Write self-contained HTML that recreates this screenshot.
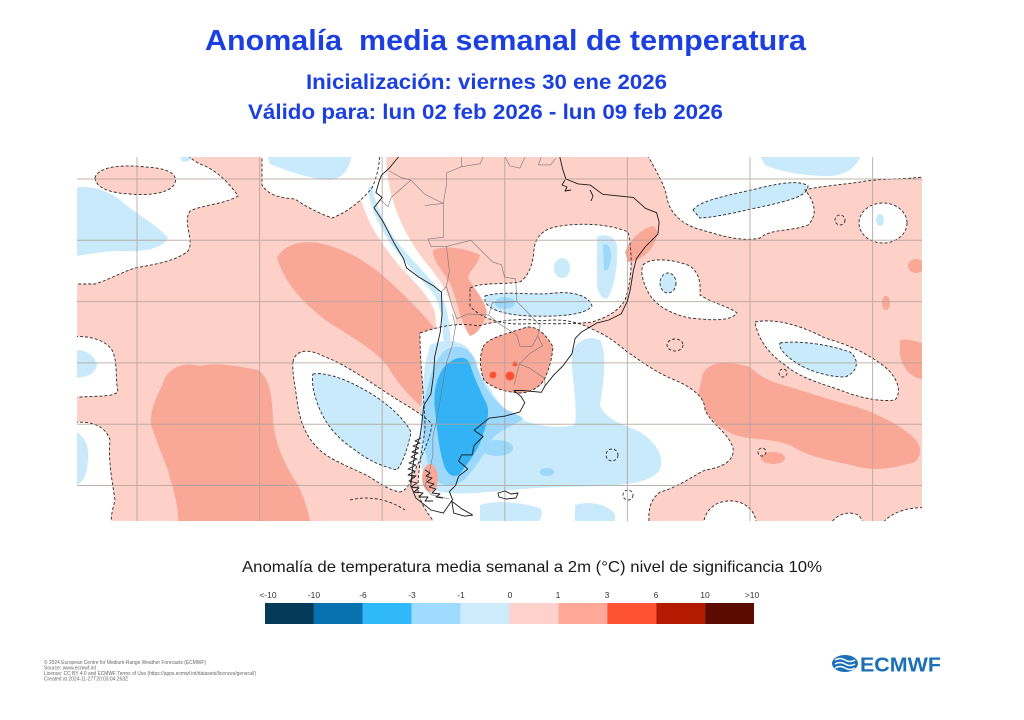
<!DOCTYPE html>
<html><head><meta charset="utf-8"><style>
html,body{margin:0;padding:0;background:#fff;}
svg{display:block;}
</style></head><body>
<svg width="1024" height="720" viewBox="0 0 1024 720" xmlns="http://www.w3.org/2000/svg">
<defs>
<clipPath id="m"><rect x="77" y="157" width="845" height="364"/></clipPath>
<path id="W1" d="M70,150 L182,150 C190,158 196,163 205,166 C218,172 230,184 238,196 C225,204 202,205 190,211 C182,223 195,240 188,251 C175,262 150,265 135,268 C120,273 108,280 95,284 L70,284 Z"/>
<path id="P1" d="M95,178 C97,167 122,164 145,167 C166,168 178,173 175,183 C171,193 150,196 130,194 C110,193 96,188 95,178 Z"/>
<path id="W2" d="M262,150 L380,150 C380,160 378,175 372,188 C362,200 348,212 332,218 C318,213 305,206 295,199 C280,198 268,195 262,185 Z"/>
<path id="WAN" d="M356,150 L386,150 C386,175 390,195 398,215 C405,232 415,250 428,265 C440,280 450,295 455,315 C458,335 456,355 452,370 L436,372 C436,350 437,330 435,312 C430,298 420,288 408,275 C395,262 385,248 375,232 C365,215 358,195 356,175 Z"/>
<path id="WSW" d="M293,362 C295,350 308,348 323,356 C340,362 360,375 387,393 C405,405 420,412 432,424 C430,440 422,455 416,468 C412,480 408,490 400,492 C388,490 378,482 368,476 C352,468 335,462 322,452 C308,440 300,425 297,400 C295,385 292,372 293,362 Z"/>
<path id="LBSW" d="M313,374 C325,372 345,378 370,393 C390,405 405,420 411,432 C408,448 403,462 397,470 C385,467 370,462 355,450 C340,440 328,428 320,410 C315,398 311,385 313,374 Z"/>
<path id="WS" d="M420,333 C440,326 460,322 478,326 C500,320 522,318 542,321 C562,318 578,322 592,329 C606,335 616,342 626,351 C641,361 652,370 670,378 C690,386 705,396 705,410 C712,425 728,432 733,448 C735,462 720,468 705,470 C690,478 676,488 660,492 C650,500 647,510 650,530 L440,530 C430,516 420,505 418,490 C418,470 422,450 425,430 C425,400 420,370 420,333 Z"/>
<path id="LBS" d="M430,345 C445,338 458,340 468,348 C478,370 490,392 505,410 C525,425 555,430 575,425 C578,400 570,370 572,352 C577,340 590,335 600,340 C608,355 603,385 600,405 C605,420 625,425 640,432 C655,442 665,455 660,470 C650,482 630,485 600,486 C570,487 540,487 510,490 C480,493 455,495 440,492 C425,485 420,470 420,450 C420,420 422,390 425,365 Z"/>
<path id="WC" d="M470,288 C482,282 500,285 520,282 C530,275 533,262 534,250 C535,238 542,230 555,227 C580,222 610,224 628,232 C633,255 632,280 625,300 C618,312 605,318 592,322 C570,325 545,323 520,324 C500,324 480,318 470,306 Z"/>
<path id="BC1" d="M485,296 C505,290 530,296 555,293 C575,291 590,297 592,306 C585,315 560,317 530,316 C505,315 490,310 485,302 Z"/>
<path id="WB" d="M643,265 C650,258 670,258 690,266 C702,275 700,288 700,295 C712,303 730,307 737,313 C730,322 710,320 690,318 C670,314 655,305 648,292 C643,282 640,272 643,265 Z"/>
<path id="WTA" d="M645,150 L930,150 L930,176 C905,180 880,178 860,182 C840,185 820,186 805,190 C815,202 818,215 808,225 C790,232 772,228 760,238 C742,242 722,236 702,230 C685,226 670,215 667,198 C664,182 655,170 645,150 Z"/>
<path id="BA1" d="M693,210 C700,200 730,195 760,188 C780,183 800,180 808,186 C808,196 790,200 770,205 C745,210 720,217 700,218 Z"/>
<path id="BA2" d="M757,150 L862,150 C860,165 848,175 830,176 C805,176 780,172 765,165 Z"/>
<path id="WR" d="M755,322 C775,318 800,325 825,338 C850,345 870,355 885,367 C898,378 902,392 895,400 C880,402 860,398 840,390 C820,383 800,378 785,365 C770,355 758,340 755,322 Z"/>
<path id="BR" d="M780,343 C800,340 830,345 850,352 C860,360 858,372 845,377 C830,377 810,372 795,362 C785,355 778,348 780,343 Z"/>
<path id="L1" d="M70,337 C90,335 105,340 112,350 C118,362 115,378 118,392 C110,398 95,395 70,398 Z"/>
<path id="L2" d="M70,423 C90,420 105,425 110,440 C108,460 112,480 115,500 C112,512 110,518 112,530 L70,530 Z"/>
<path id="PY" d="M483,347 C488,338 500,336 527,327 C535,326 545,332 553,347 C552,357 550,367 545,378 C540,387 530,393 520,393 C505,392 492,388 484,380 C480,370 479,357 483,347 Z"/>
<path id="WBR1" d="M703,530 C703,510 715,500 733,501 C748,503 757,512 757,530 Z"/>
<path id="WBR2" d="M828,530 C832,515 848,510 858,515 C864,520 863,526 862,530 Z"/>
<path id="WBR3" d="M878,530 C886,514 905,506 930,508 L930,530 Z"/>
</defs>

<!-- Titles -->
<g font-family="'Liberation Sans', 'DejaVu Sans', sans-serif" font-weight="bold" fill="#1c40e0">
<text x="205" y="50" font-size="29" textLength="601" lengthAdjust="spacingAndGlyphs" style="white-space:pre">Anomalía  media semanal de temperatura</text>
<text x="306" y="89" font-size="21" textLength="361" lengthAdjust="spacingAndGlyphs">Inicialización: viernes 30 ene 2026</text>
<text x="248" y="119" font-size="21" textLength="475" lengthAdjust="spacingAndGlyphs">Válido para: lun 02 feb 2026 - lun 09 feb 2026</text>
</g>

<!-- Map -->
<g clip-path="url(#m)">
<rect x="77" y="157" width="845" height="364" fill="#fdd0c8"/>
<!-- salmon large -->
<g fill="#f9a898">
<path d="M277,258 C283,246 298,240 318,243 C345,248 368,262 388,280 C405,296 422,312 436,330 L438,362 C436,384 432,398 426,410 C412,400 398,384 386,364 C372,348 350,336 328,322 C303,303 285,284 277,258 Z"/>
<path d="M165,378 C172,366 185,362 200,366 C215,362 238,366 258,370 C270,378 272,395 273,420 C275,445 285,465 298,485 C305,500 308,510 312,530 L178,530 C180,505 172,488 168,470 C162,455 158,445 151,425 C150,410 156,398 160,390 Z"/>
<path d="M703,373 C710,362 725,360 750,367 C760,378 775,383 790,387 C810,393 830,400 857,407 C880,415 900,425 913,437 C922,445 922,455 915,462 C895,468 875,472 855,466 C830,460 810,458 790,445 C770,438 750,440 735,435 C718,428 705,415 698,395 Z"/>
<path d="M900,340 C912,338 930,345 930,350 L930,380 C912,380 903,370 900,355 Z"/>
<ellipse cx="916" cy="266" rx="8" ry="7"/>
<ellipse cx="886" cy="303" rx="4" ry="7"/>
<ellipse cx="773" cy="458" rx="12" ry="6"/>
</g>
<!-- white regions -->
<g fill="#ffffff">
<use href="#W1"/><use href="#W2"/><use href="#WAN"/><use href="#WSW"/><use href="#WS"/><use href="#WC"/><use href="#WB"/><use href="#WTA"/><use href="#WR"/><use href="#L1"/><use href="#L2"/>
<ellipse cx="883" cy="223" rx="24" ry="20"/>
<use href="#WBR1"/><use href="#WBR2"/><use href="#WBR3"/>
<path d="M610,380 C625,372 640,378 650,392 C655,405 645,415 630,412 C615,408 606,395 610,380 Z"/>
</g>
<use href="#P1" fill="#fdd0c8"/>
<!-- light blue -->
<g fill="#c9eafa">
<path d="M70,188 C95,184 113,193 126,205 C140,216 158,226 168,238 C162,250 140,252 120,251 C105,251 90,254 70,257 Z"/>
<path d="M266,150 L352,150 C352,165 344,179 330,180 C310,179 290,172 270,164 Z"/>
<path d="M180,150 L194,150 C193,161 187,163 181,161 Z"/>
<path d="M372,185 C375,205 385,225 398,243 C410,258 425,272 437,288 C445,300 448,320 447,340 L443,340 C443,320 440,302 432,292 C420,278 405,262 393,247 C380,228 370,208 368,188 Z"/>
<path d="M444,300 C450,320 452,345 450,368 L444,368 C445,345 444,320 440,302 Z"/>
<use href="#LBSW"/><use href="#LBS"/><use href="#BC1"/>
<path d="M597,237 C605,233 615,236 617,245 C618,265 615,285 608,298 C600,300 596,290 597,275 Z"/>
<ellipse cx="562" cy="268" rx="8" ry="10"/>
<ellipse cx="668" cy="283" rx="8" ry="10"/>
<use href="#BA1"/><use href="#BA2"/><use href="#BR"/>
<ellipse cx="880" cy="220" rx="4" ry="6"/>
<path d="M70,350 C85,348 95,355 97,365 C95,375 85,378 70,378 Z"/>
<path d="M70,430 C83,432 90,445 88,460 C87,475 84,485 70,487 Z"/>
<path d="M480,505 C495,500 520,502 540,508 C545,515 540,521 530,530 L480,530 Z"/>
<path d="M575,505 C590,500 610,505 615,515 L615,530 L575,530 Z"/>
</g>
<!-- medium blue -->
<g fill="#9bd8fb">
<path d="M450,348 C462,344 472,350 476,362 C480,380 490,398 507,410 C515,414 522,416 523,419 C515,425 500,430 493,438 C486,450 478,465 466,478 C458,486 445,489 437,481 C428,470 424,450 423,427 C423,405 426,390 432,372 C437,360 442,350 450,348 Z"/>
<ellipse cx="497" cy="448" rx="16" ry="8"/>
<ellipse cx="547" cy="472" rx="7" ry="4"/>
<ellipse cx="505" cy="303" rx="10" ry="6"/>
<path d="M603,245 C607,243 611,246 611,255 C611,265 608,272 604,270 Z"/>
</g>
<!-- strong blue -->
<path fill="#33b3f5" d="M450,362 C458,356 467,356 470,364 C474,378 480,390 487,405 C490,415 486,425 482,438 C478,450 470,460 460,474 C453,479 446,474 443,462 C439,448 437,430 435,410 C433,393 436,380 442,370 C445,366 447,363 450,362 Z"/>
<!-- salmon on top -->
<g fill="#f9a898">
<use href="#PY"/>
<path d="M433,250 C445,245 465,248 480,255 C478,265 470,270 468,278 C475,290 485,300 487,312 C484,324 478,334 470,336 C462,325 458,305 452,288 C447,275 432,262 433,250 Z"/>
<path d="M625,252 C630,240 640,230 652,226 C660,228 658,240 650,250 C643,258 635,262 628,262 Z"/>
<ellipse cx="430" cy="478" rx="8" ry="14"/>
<path d="M520,362 C530,358 545,362 547,372 C545,385 535,392 524,390 C518,382 516,370 520,362 Z"/>
</g>
<g fill="#ff5233">
<circle cx="493" cy="375" r="3.5"/>
<circle cx="510" cy="376" r="4.5"/>
<circle cx="515" cy="364" r="2.5"/>
</g>
<!-- dashed contours -->
<g fill="none" stroke="#2a2a2a" stroke-width="0.9" stroke-dasharray="3,2">
<use href="#W1"/><use href="#P1"/><use href="#W2"/><use href="#WSW"/><use href="#LBSW"/><use href="#WS"/><use href="#WC"/><use href="#WB"/><use href="#WTA"/><use href="#BA1"/><use href="#WR"/><use href="#BR"/><use href="#L1"/><use href="#L2"/><use href="#PY"/><use href="#BC1"/>
<use href="#WBR1"/><use href="#WBR2"/><use href="#WBR3"/>
<ellipse cx="883" cy="223" rx="24" ry="20"/>
<circle cx="840" cy="220" r="5"/>
<circle cx="783" cy="373" r="4"/>
<circle cx="762" cy="452" r="4"/>
<circle cx="612" cy="455" r="6"/>
<circle cx="628" cy="495" r="5"/>
<ellipse cx="675" cy="345" rx="8" ry="6"/>
<ellipse cx="668" cy="283" rx="8" ry="10"/>
<path d="M350,500 C370,495 390,500 405,510"/>
</g>
<!-- gridlines -->
<g stroke="#b0a298" stroke-width="1" opacity="0.8">
<line x1="137" y1="157" x2="137" y2="521"/>
<line x1="259.6" y1="157" x2="259.6" y2="521"/>
<line x1="382.2" y1="157" x2="382.2" y2="521"/>
<line x1="504.8" y1="157" x2="504.8" y2="521"/>
<line x1="627.4" y1="157" x2="627.4" y2="521"/>
<line x1="750" y1="157" x2="750" y2="521"/>
<line x1="872.6" y1="157" x2="872.6" y2="521"/>
<line x1="77" y1="179" x2="922" y2="179"/>
<line x1="77" y1="240.3" x2="922" y2="240.3"/>
<line x1="77" y1="301.6" x2="922" y2="301.6"/>
<line x1="77" y1="362.9" x2="922" y2="362.9"/>
<line x1="77" y1="424.2" x2="922" y2="424.2"/>
<line x1="77" y1="485.5" x2="922" y2="485.5"/>
</g>
<!-- borders -->
<g fill="none" stroke="#777" stroke-width="0.6">
<path d="M452.5,313.9 L455.6,326.1 L452.5,344.5 L446.4,362.9 L443.3,381.3 L440.2,399.7 L437.2,418.1 L432.9,436.5 L432.9,454.9 L429.2,473.2 L424.9,485.5 L431,494.7 L449.4,499"/>
<path d="M446.4,246.4 L470.9,240.3 L492.3,261.8 L501.5,264.8 L504.6,277.1 L515.6,278.9 L516.9,301.6 L492.3,302.8 L488.7,315.1 L467.8,313.9 L456.8,318.8 L452.5,307.7 L446.4,286.3 L449.4,271 L446.4,246.4"/>
<path d="M424.9,205.4 L443.3,203.5 L443.3,237.2 L428,239.1 L431,246.4 L446.4,246.4"/>
<path d="M441.5,291.8 L446.4,286.3"/>
<path d="M389.4,171 L400.4,177.2 L410.8,180.2 L424.9,194.3 L443.3,203.5"/>
<path d="M380.2,199.8 L388.1,206.6 L391.2,197.4 L402,188 L410.8,180.2"/>
<path d="M443.3,203.5 L446.4,185.1 L446.4,172.9 L461.7,166.7 L461.7,156.9"/>
<path d="M461.7,166.7 L480.1,163.7 L483.1,156.9"/>
<path d="M541.4,156.9 L538.3,164.9 L550.6,164.9 L556,158"/>
<path d="M505,157 L510,166 L520,168 L525,157"/>
<path d="M488.7,315.1 L498.5,323.1 L516.9,335.3 L519.9,346.3 L532.2,346.3 L537.7,335.9 L540.2,326.1 L532.2,316.9 L516.9,301.6"/>
<path d="M537.7,335.9 L542.6,345.7 L530.3,353.1 L519.3,364.1 L529.1,367.8 L544.5,378.2 L545.1,385.6"/>
<path d="M519.3,364.1 L514.4,384.4"/>
</g>
<!-- coastlines -->
<g fill="none" stroke="#1a1a1a" stroke-width="0.9" stroke-linejoin="round">
<path d="M398.6,156.9 L389.4,168 L381.4,175.3 L378.9,182 L375.9,192.5 L382,197.4 L374,207.8 L383.2,221.9 L394.3,243.4 L403.5,258.7 L406.5,267.9 L418.8,277.1 L434.1,286.3 L441.5,292.4 L442.1,313.9 L440.2,332.3 L434.7,356.8 L433.5,375.2 L431,393.6 L423.7,405.8 L421.8,424.2 L420,436.5 L415.7,448.7 L412.7,467.1 L410.8,485.5 L415.7,497.8 L431,510 L443.3,513.1 L452.5,499.6 L449.4,491.6 L455.6,485.5 L458.6,476.3 L467.8,469 L458.6,461 L461.7,454.9 L472.1,454.9 L474,445.7 L480.1,439.5 L483.1,436.5 L474,430.3 L489.3,418.1 L504.6,416.2 L519.9,411.9 L524.8,402.7 L521.2,396.6 L513.8,390.5 L523,390.5 L541.4,392.3 L545.1,385.6 L553.6,375.2 L562.8,366 L572,353.7 L575.1,338.4 L581.2,332.3 L596.6,323.1 L608.8,320 L621.1,313.9 L627.2,301.6 L630.3,289.3 L633.3,271 L636.4,258.7 L645.6,246.4 L657.9,234.2 L659.1,221.9 L656.6,212.7 L645.6,208.4 L633.3,197.4 L621.1,196.2 L602.7,194.3 L590.4,185.1 L578.2,183.9 L565.9,179 L562.8,169.8 L559.8,156.9"/>
<path d="M451.9,501.4 L453.7,513.1 L464.8,516.2 L472.7,515 L461.7,508.8 Z"/>
<path d="M498,493 L505,491 L511,494 L518,493 L516,498 L506,499 L499,497 Z"/>
<path d="M421,438 l-6,3 l5,2 l-7,3 l6,2 l-7,4 l6,1 l-7,4 l6,2 l-8,4 l7,2 l-8,4 l7,2 l-7,4 l8,1 l-7,5 l8,2 l-6,4 l8,1 l-5,4 l9,1 l-4,4 l9,0 l-3,4 l8,0"/>
<path d="M425,470 l5,3 l-4,3 l6,2 l-5,4 l7,2 l-5,3 l7,2 l-4,4 l8,1 l-4,3 l7,1"/>
<path d="M565,180 l-3,5 l5,2 l-2,4 l6,-1"/>
<path d="M590,190 l3,6 l-2,5"/>
</g>
</g>

<!-- Colorbar caption -->
<text x="242" y="572" font-family="'Liberation Sans', 'DejaVu Sans', sans-serif" font-size="16" fill="#1a1a1a" textLength="580" lengthAdjust="spacingAndGlyphs">Anomalía de temperatura media semanal a 2m (°C) nivel de significancia 10%</text>

<!-- Colorbar -->
<g>
<rect x="265" y="603" width="48.9" height="21" fill="#063a59"/>
<rect x="313.9" y="603" width="48.9" height="21" fill="#0872b0"/>
<rect x="362.8" y="603" width="48.9" height="21" fill="#2fb9fb"/>
<rect x="411.7" y="603" width="48.9" height="21" fill="#9fdbfd"/>
<rect x="460.6" y="603" width="48.9" height="21" fill="#cdebfb"/>
<rect x="509.5" y="603" width="48.9" height="21" fill="#ffd1cc"/>
<rect x="558.4" y="603" width="48.9" height="21" fill="#ffa898"/>
<rect x="607.3" y="603" width="48.9" height="21" fill="#ff5233"/>
<rect x="656.2" y="603" width="48.9" height="21" fill="#b31a00"/>
<rect x="705.1" y="603" width="48.9" height="21" fill="#5c0b00"/>
</g>
<g font-family="'Liberation Sans', 'DejaVu Sans', sans-serif" font-size="8.5" fill="#333" text-anchor="middle">
<text x="268" y="598">&lt;-10</text>
<text x="314" y="598">-10</text>
<text x="363" y="598">-6</text>
<text x="412" y="598">-3</text>
<text x="461" y="598">-1</text>
<text x="510" y="598">0</text>
<text x="558" y="598">1</text>
<text x="607" y="598">3</text>
<text x="656" y="598">6</text>
<text x="705" y="598">10</text>
<text x="752" y="598">&gt;10</text>
</g>

<!-- Footer -->
<g font-family="'Liberation Sans', 'DejaVu Sans', sans-serif" font-size="5.2" fill="#666">
<text x="44" y="664" textLength="162" lengthAdjust="spacingAndGlyphs">© 2024 European Centre for Medium-Range Weather Forecasts (ECMWF)</text>
<text x="44" y="669.5" textLength="52" lengthAdjust="spacingAndGlyphs">Source: www.ecmwf.int</text>
<text x="44" y="675" textLength="212" lengthAdjust="spacingAndGlyphs">Licence: CC BY 4.0 and ECMWF Terms of Use (https://apps.ecmwf.int/datasets/licences/general/)</text>
<text x="44" y="680.5" textLength="84" lengthAdjust="spacingAndGlyphs">Created at 2024-11-27T20:03:04.263Z</text>
</g>

<!-- ECMWF logo -->
<g>
<ellipse cx="845" cy="663.5" rx="13" ry="8.5" fill="#1b6fb8"/>
<path d="M835,660 q5,-3 10,0 q5,3 10,0" stroke="#fff" stroke-width="1.6" fill="none"/>
<path d="M835,664 q5,-3 10,0 q5,3 10,0" stroke="#fff" stroke-width="1.6" fill="none"/>
<path d="M835,668 q5,-3 10,0 q5,3 10,0" stroke="#fff" stroke-width="1.6" fill="none"/>
<text x="860" y="671.5" font-family="'Liberation Sans', 'DejaVu Sans', sans-serif" font-weight="bold" font-size="20" fill="#1b6fb8" textLength="81" lengthAdjust="spacingAndGlyphs">ECMWF</text>
</g>
</svg>
</body></html>
